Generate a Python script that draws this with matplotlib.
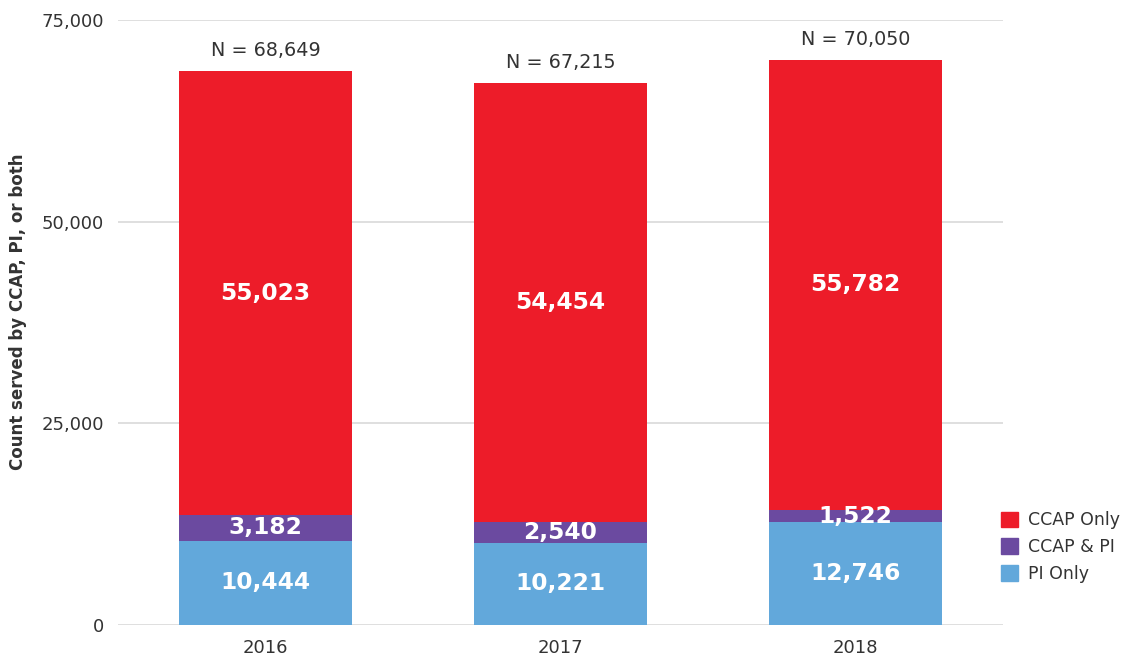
import numpy as np
import matplotlib
matplotlib.use("Agg")
import matplotlib.pyplot as plt
from matplotlib.patches import Patch

plt.rcParams['font.family'] = ['DejaVu Sans']

# data
years = ["2016", "2017", "2018"]
pi_only = [10444, 10221, 12746]
ccap_pi = [3182, 2540, 1522]
ccap_only = [55023, 54454, 55782]
totals = [68649, 67215, 70050]

series_names = ["PI Only", "CCAP & PI", "CCAP Only"]
colors = ["#62A8DB", "#6B4AA0", "#ED1C29"]

TEXT = "#333333"

fig = plt.figure(figsize=(11.25, 6.6), dpi=100)
ax = fig.add_axes([118 / 1125, 35 / 660, 885 / 1125, 605 / 660])

x = np.arange(len(years))
width = 0.586
bottom = np.zeros(len(years))
for vals, name, col in zip([pi_only, ccap_pi, ccap_only], series_names, colors):
    vals = np.array(vals)
    ax.bar(x, vals, width, bottom=bottom, color=col, zorder=3, label=name)
    for xi, b, v in zip(x, bottom, vals):
        ax.text(xi, b + v / 2, f"{v:,}", ha="center", va="center",
                color="white", fontsize=16.8, fontweight="bold", zorder=4)
    bottom += vals

# totals above bars
for xi, t in zip(x, totals):
    ax.annotate(f"N = {t:,}", (xi, t), xytext=(0, 8), textcoords="offset points",
                ha="center", va="bottom", fontsize=13.8, color=TEXT)

ax.set_xlim(-0.5, 2.5)
ax.set_ylim(0, 75000)
ax.set_yticks([0, 25000, 50000, 75000])
ax.set_yticklabels(["0", "25,000", "50,000", "75,000"])
ax.set_xticks(x)
ax.set_xticklabels(years)
ax.tick_params(axis="both", length=0, labelsize=13, colors=TEXT)
ax.tick_params(axis="y", pad=10)
ax.tick_params(axis="x", pad=10)
ax.grid(axis="y", color="#d9d9d9", linewidth=1.2, zorder=0)
for s in ax.spines.values():
    s.set_visible(False)

fig.text(18 / 1125, 1 - 312 / 660, "Count served by CCAP, PI, or both",
         rotation=90, ha="center", va="center", fontsize=12,
         fontweight="bold", color=TEXT)

handles = [Patch(color=c) for c in reversed(colors)]
leg = fig.legend(handles, list(reversed(series_names)), loc="center left",
                 bbox_to_anchor=(985 / 1125, 1 - 547 / 660), frameon=False,
                 fontsize=12.5, handlelength=1.0, handleheight=1.0,
                 labelspacing=0.5, handletextpad=0.6)
for t in leg.get_texts():
    t.set_color(TEXT)

fig.savefig("out.png", dpi=100)
